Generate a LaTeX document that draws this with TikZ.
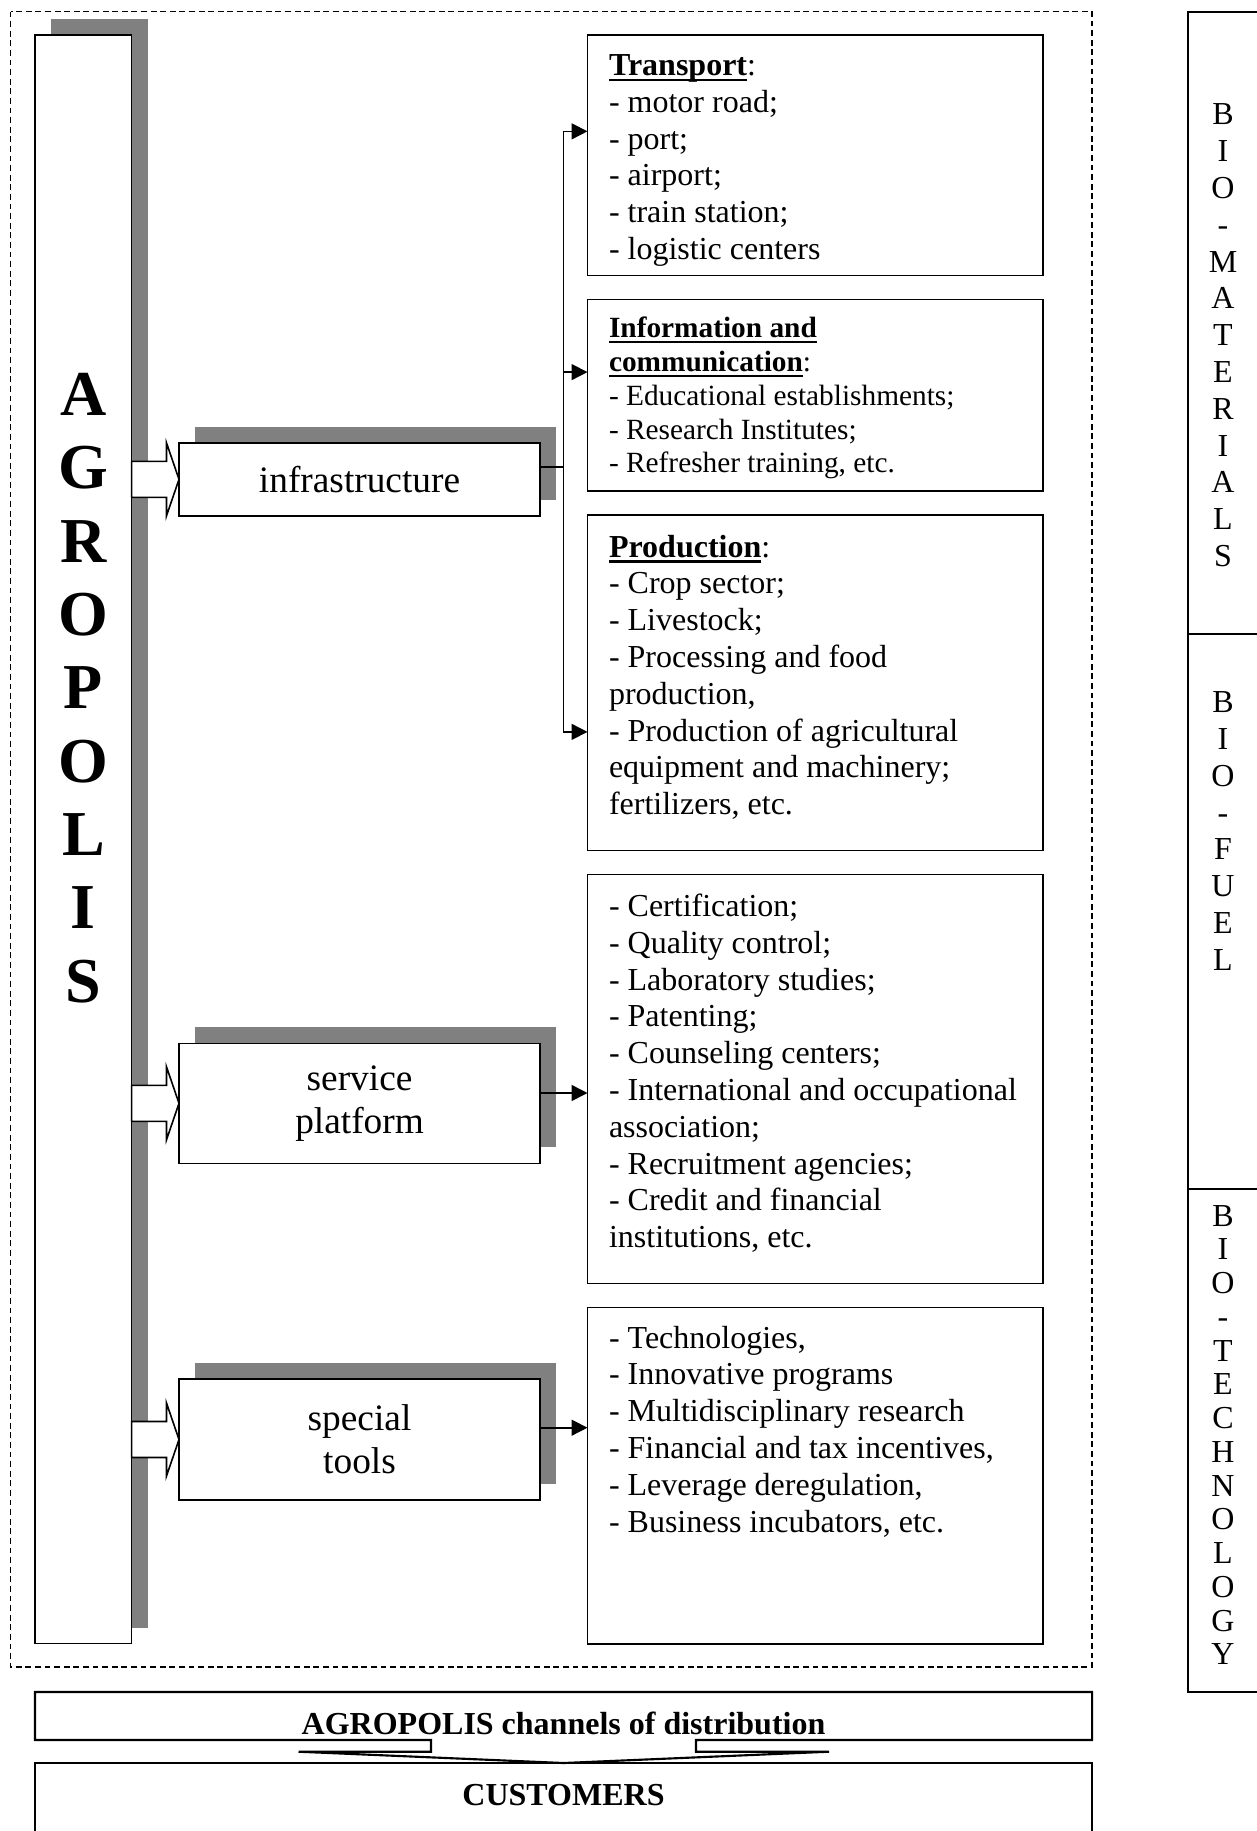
\documentclass[tikz,border=0pt]{standalone}
\usepackage{fontspec}
\setmainfont{Liberation Serif}
\usetikzlibrary{positioning, arrows.meta, calc, shadows}

% bold heading with a heavy underline
\newcommand{\listhead}[1]{\setbox0\hbox{\textbf{#1}}\rlap{\rule[-2.1pt]{\wd0}{0.85pt}}\box0}

\begin{document}
\begin{tikzpicture}[
    x=0.375pt, y=-0.375pt,
    node distance=9pt,
    plainbox/.style={draw, line width=0.6pt, fill=white, inner sep=0pt, outer sep=0pt},
    shadowed/.style={drop shadow={shadow xshift=6pt, shadow yshift=6pt, fill=black!50, opacity=1}},
    partbox/.style={plainbox, shadowed, minimum width=135.4pt, align=center, font=\fontsize{14}{16.1}\selectfont},
    listbox/.style={plainbox, minimum width=170.9pt},
    listtext/.style={anchor=north west, align=left, inner sep=0pt, font=\fontsize{12}{13.8}\selectfont},
    biobox/.style={plainbox, minimum width=28.5pt},
    biotext/.style={align=center, inner sep=0pt, font=\fontsize{12}{13.8}\selectfont},
    bigletters/.style={align=center, inner sep=0pt, font=\fontsize{24}{27.5}\selectfont\bfseries},
    basebox/.style={plainbox, line width=0.8pt, minimum width=396.4pt},
    boldlabel/.style={inner sep=0pt, font=\fontsize{12}{13.8}\selectfont\bfseries},
    fatarrow/.style={draw, fill=white, line width=0.6pt},
    linkline/.style={line width=0.6pt},
    dashframe/.style={line width=0.45pt, dash pattern=on 2.2pt off 1.4pt},
    >={Triangle[length=6pt, width=6pt]}
]
  \useasboundingbox (0,0) rectangle (1257,1831);
  \clip (0,0) rectangle (1257,1831);

  % dashed frame round the agropolis
  \draw[dashframe] (10.5,11.5) rectangle (1092,1667);

  % agropolis column
  \node[plainbox, shadowed, minimum width=36.26pt, minimum height=603.2pt, anchor=north west] (agro) at (35,35) {};
  \node[bigletters] (agro letters) at ($(agro.north)+(0,653)$) {A\\G\\R\\O\\P\\O\\L\\I\\S};

  % parts
  \node[partbox, minimum height=27.3pt, anchor=west] (infra) at (179,479.35) {infrastructure};
  \node[partbox, minimum height=45pt, anchor=west] (service) at (179,1103.3) {service\\platform};
  \node[partbox, minimum height=45.4pt, anchor=west] (tools) at (179,1439.5) {special\\tools};

  % lists
  \node[listbox, minimum height=90.26pt, anchor=north west] (transport) at (587.5,35) {};
  \node[listbox, minimum height=71.85pt, below=of transport] (info) {};
  \node[listbox, minimum height=125.7pt, below=of info] (production) {};
  \node[listbox, minimum height=153.3pt, below=of production] (servlist) {};
  \node[listbox, minimum height=126.15pt, below=of servlist] (toollist) {};

  \node[listtext] (transport text) at ($(transport.north west)+(21,19)$)
    {\listhead{Transport}:\\- motor road;\\- port;\\- airport;\\- train station;\\- logistic centers};
  \node[listtext, font=\fontsize{11}{12.65}\selectfont] (info text) at ($(info.north west)+(21,17)$)
    {\listhead{Information and}\\\listhead{communication}:\\- Educational establishments;\\- Research Institutes;\\- Refresher training, etc.};
  \node[listtext] (production text) at ($(production.north west)+(21,19)$)
    {\listhead{Production}:\\- Crop sector;\\- Livestock;\\- Processing and food\\production,\\- Production of agricultural\\equipment and machinery;\\fertilizers, etc.};
  \node[listtext] (servlist text) at ($(servlist.north west)+(21,19)$)
    {- Certification;\\- Quality control;\\- Laboratory studies;\\- Patenting;\\- Counseling centers;\\- International and occupational\\association;\\- Recruitment agencies;\\- Credit and financial\\institutions, etc.};
  \node[listtext] (toollist text) at ($(toollist.north west)+(21,18)$)
    {- Technologies,\\- Innovative programs\\- Multidisciplinary research\\- Financial and tax incentives,\\- Leverage deregulation,\\- Business incubators, etc.};

  % bio column
  \node[biobox, minimum height=233.4pt, anchor=north west] (materials) at (1188,11.7) {};
  \node[biobox, minimum height=208.1pt, below=0pt of materials] (fuel) {};
  \node[biobox, minimum height=188.5pt, below=0pt of fuel] (technology) {};
  \node[biotext] (materials label) at (1223,335.3) {B\\I\\O\\-\\M\\A\\T\\E\\R\\I\\A\\L\\S};
  \node[biotext] (fuel label) at (1223,831) {B\\I\\O\\-\\F\\U\\E\\L};
  \node[biotext, font=\fontsize{12}{12.65}\selectfont] (technology label) at (1223,1435) {B\\I\\O\\-\\T\\E\\C\\H\\N\\O\\L\\O\\G\\Y};

  % distribution and customers
  \node[basebox, draw=none, fill=none, minimum height=18pt, anchor=north west] (channels) at (35,1692) {};
  \node[basebox, minimum height=40pt, anchor=north west] (customers) at (35,1763) {};
  \node[boldlabel] (channels label) at ($(channels.center)+(0,7)$) {AGROPOLIS channels of distribution};
  \node[boldlabel] (customers label) at ($(customers.north)+(0,32.5)$) {CUSTOMERS};
  \draw[line width=0.8pt, line join=miter] ($(channels.south)+(-132.5,0)$) -- (channels.south west) -- (channels.north west)
    -- (channels.north east) -- (channels.south east) -- ($(channels.south)+(132.5,0)$) -- ++(0,11.7) -- ++(133,0)
    -- (customers.north) -- ($(channels.south)+(-265,11.7)$) -- ($(channels.south)+(-132.5,11.7)$) -- cycle;

  % hollow arrows
  \foreach \pname in {infra, service, tools}
    \draw[fatarrow] ($(agro.east |- \pname.west)+(0,-18)$) -- ($(\pname.west)+(-12.5,-18)$) -- ($(\pname.west)+(-12.5,-36.5)$)
      -- (\pname.west) -- ($(\pname.west)+(-12.5,36.5)$) -- ($(\pname.west)+(-12.5,18)$) -- ($(agro.east |- \pname.west)+(0,18)$) -- cycle;

  % infrastructure bus
  \coordinate (bus) at ($(infra.east)+(23.5,-12.6)$);
  \draw[linkline] (infra.east |- bus) -- (bus);
  \draw[linkline, ->] (bus) |- ($(transport.west)+(0,-24)$);
  \draw[linkline, ->] (bus) |- ($(info.west)+(0,-23.4)$);
  \draw[linkline, ->] (bus) |- ($(production.west)+(0,49)$);

  \draw[linkline, ->] ($(service.east)+(0,-10.3)$) -- ($(service.east -| servlist.west)+(0,-10.3)$);
  \draw[linkline, ->] ($(tools.east)+(0,-11.8)$) -- ($(tools.east -| toollist.west)+(0,-11.8)$);
\end{tikzpicture}
\end{document}
